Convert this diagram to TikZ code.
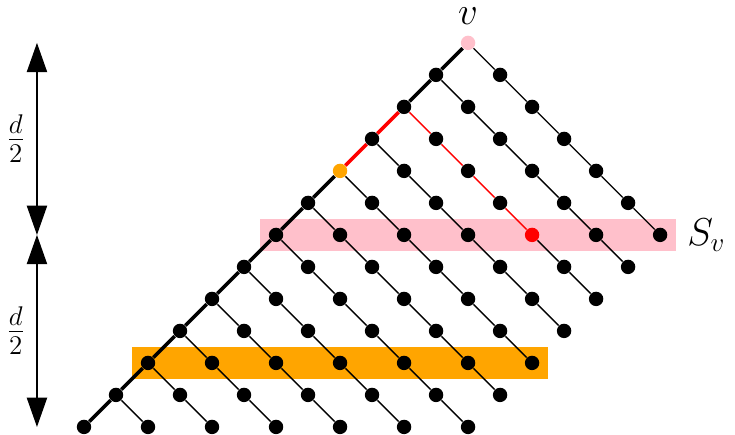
\documentclass[tikz,border=0pt]{standalone}
\usepackage{amsmath}
\usetikzlibrary{arrows.meta,positioning}
\definecolor{bandpink}{HTML}{FFC0CB}
\definecolor{bandorange}{HTML}{FFA500}
\tikzset{
  pt/.style={circle, fill=black, inner sep=0pt, minimum size=6.4pt},
  tint 0-0/.style={fill=bandpink},
  tint 4-0/.style={fill=bandorange},
  tint 2-4/.style={fill=red},
  diag/.style={line width=0.6pt},
  spine/.style={line width=1.6pt},
  bar/.style={line width=0.6pt, {Triangle[length=13pt,width=9pt]}-{Triangle[length=13pt,width=9pt]}},
  lbl/.style={font=\LARGE},
}

\begin{document}
\begin{tikzpicture}[x=0.5cm, y=0.5cm]
  \useasboundingbox (-2.625,-0.25) rectangle (20.34,13.34);

  % Bands
  \fill[bandpink] (5.5,5.5) rectangle (18.5,6.5);
  \fill[bandorange] (1.5,1.5) rectangle (14.5,2.5);

  % Dots: \i = row on the spine, \k = steps down its diagonal
  \foreach \i in {0,...,12} {
    \pgfmathtruncatemacro\last{min(6,12-\i)}
    \foreach \k in {0,...,\last} {
      \node[pt, tint \i-\k/.try] (n-\i-\k) at ({12-\i+\k},{12-\i-\k}) {};
    }
  }

  % Diagonals
  \foreach \i in {0,1,3,4,5,6,7,8,9,10,11} {
    \pgfmathtruncatemacro\last{min(6,12-\i)}
    \foreach \k [evaluate=\k as \j using int(\k-1)] in {1,...,\last} {
      \draw[diag] (n-\i-\j) -- (n-\i-\k);
    }
  }
  \foreach \j/\k in {0/1,1/2,2/3,3/4}
    \draw[diag, red] (n-2-\j) -- (n-2-\k);
  \foreach \j/\k in {4/5,5/6}
    \draw[diag] (n-2-\j) -- (n-2-\k);

  % Spine
  \foreach \i [evaluate=\i as \j using int(\i-1)] in {5,...,12}
    \draw[spine] (n-\i-0) -- (n-\j-0);
  \draw[spine, red] (n-4-0) -- (n-3-0);
  \draw[spine, red] (n-3-0) -- (n-2-0);
  \draw[spine] (n-2-0) -- (n-1-0);
  \draw[spine] (n-1-0) -- (n-0-0);

  % Labels
  \node[above=4pt of n-0-0, lbl, inner sep=0.5pt] (v-lab) {$v$};
  \node[anchor=west, lbl] (sv-lab) at (18.6,6) {$S_v$};

  % Height bars
  \coordinate (bar-top) at (-1.47,12);
  \coordinate (bar-mid) at (-1.47,6);
  \coordinate (bar-bot) at (-1.47,0);
  \draw[bar] (bar-top) -- (bar-mid) node[midway, left=1.5pt, lbl] (half-up) {$\frac{d}{2}$};
  \draw[bar] (bar-mid) -- (bar-bot) node[midway, left=1.5pt, lbl] (half-low) {$\frac{d}{2}$};
\end{tikzpicture}
\end{document}
